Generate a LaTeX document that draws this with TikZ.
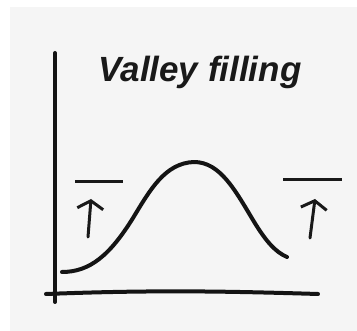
\documentclass[tikz,border=0pt]{standalone}
\usepackage{fontspec}
\setmainfont{Liberation Sans}
\usetikzlibrary{arrows.meta}
\begin{document}
\begin{tikzpicture}[x=1pt,y=-1pt,
  ink/.style={line width=4pt,line cap=round,line join=round,black!92},
  bar/.style={line width=3pt,black!90},
  uparrow/.style={line width=3pt,line cap=round,black!90,-{Straight Barb[length=8pt,width=26pt,line width=3pt]}}]
\useasboundingbox (0,0) rectangle (357,331);
\fill[white] (0,0) rectangle (357,331);
\fill[black!4] (10,7) rectangle (357,331);
% axes
\coordinate (ytop) at (55,53);
\coordinate (origin) at (55,302);
\coordinate (xleft) at (46,294);
\coordinate (xright) at (318,294);
\draw[ink] (ytop) -- (origin);
\draw[ink] (xleft) .. controls (150,290) and (220,291) .. (xright);
% title
\node[font=\bfseries\itshape\fontsize{35}{35}\selectfont,anchor=center,black!90] (title) at (200,72) {Valley filling};
% curve
\draw[ink] (62,272) .. controls (90,272) and (110,255) .. (133,218)
  .. controls (150,190) and (165,163) .. (194,162)
  .. controls (220,162) and (235,190) .. (253,220)
  .. controls (265,240) and (275,252) .. (287,257);
% left marker
\coordinate (lb1) at (75,182); \coordinate (lb2) at (123,182);
\draw[bar] (lb1) -- (lb2);
\coordinate (la1) at (88,237); \coordinate (la2) at (91,199);
\draw[uparrow] (la1) -- (la2);
% right marker
\coordinate (rb1) at (283,180); \coordinate (rb2) at (342,180);
\draw[bar] (rb1) -- (rb2);
\coordinate (ra1) at (310,238); \coordinate (ra2) at (315,199);
\draw[uparrow] (ra1) -- (ra2);
\end{tikzpicture}
\end{document}
